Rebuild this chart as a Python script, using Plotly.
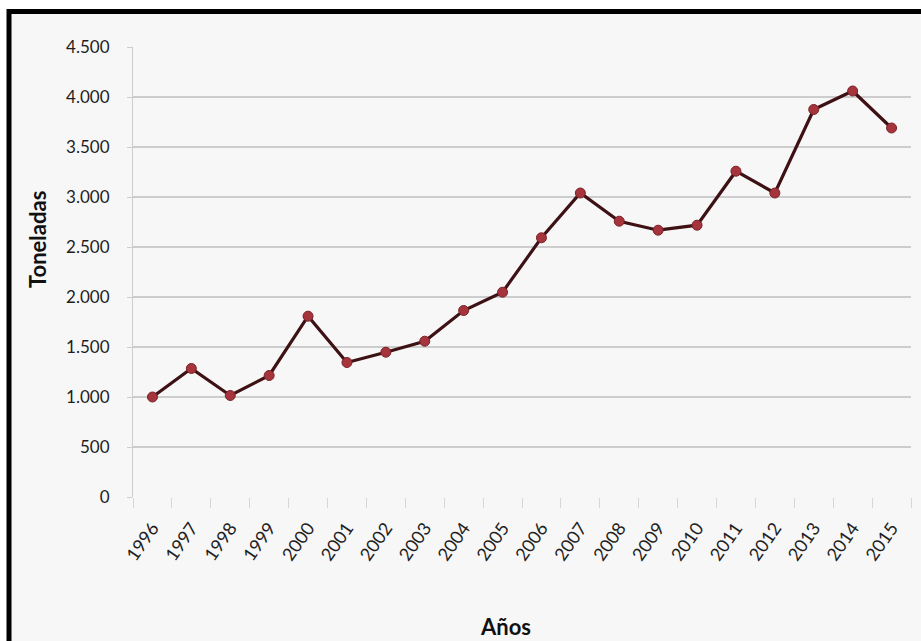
import plotly.graph_objects as go

years = [str(y) for y in range(1996, 2016)]
toneladas = [1000, 1285, 1015, 1215, 1808, 1345, 1448, 1558, 1865, 2048,
             2592, 3040, 2758, 2668, 2718, 3258, 3040, 3875, 4060, 3690]
y_ticks = [0, 500, 1000, 1500, 2000, 2500, 3000, 3500, 4000, 4500]

W, H = 921, 641
L, R, T, B = 133, 10, 47, 144
pw, ph = W - L - R, H - T - B


def px(x):
    return (x - L) / pw


def py(y):
    return (H - B - y) / ph


FONT = "Lato, 'Open Sans', sans-serif"

fig = go.Figure()
fig.add_trace(go.Scatter(
    x=years, y=toneladas, mode="lines+markers",
    line=dict(color="#3e1114", width=3.2),
    marker=dict(color="#a5343c", size=10, line=dict(color="#7a2226", width=1)),
    hoverinfo="x+y", showlegend=False,
))

fig.update_layout(
    width=W, height=H,
    margin=dict(l=L, r=R, t=T, b=B),
    paper_bgcolor="white",
    plot_bgcolor="rgba(0,0,0,0)",
    separators=",.",
    font=dict(family=FONT, color="#222222", size=17),
    xaxis=dict(
        type="category", range=[-0.5, len(years) - 0.5],
        tickangle=-55, showgrid=False,
        ticks="outside", ticklen=10, tickcolor="#d6d6d6", tickwidth=1,
        tickson="boundaries", ticklabelstandoff=16,
        showline=False, zeroline=False,
        tickfont=dict(family=FONT, size=18, color="#1e1e1e"),
    ),
    yaxis=dict(
        range=[0, 4500], tickvals=y_ticks, tickformat=",d",
        showgrid=True, gridcolor="#cdcdcd", gridwidth=1.6,
        ticks="outside", ticklen=5, tickcolor="#cdcdcd",
        ticklabelstandoff=14,
        showline=True, linecolor="#cdcdcd", linewidth=1.2,
        zeroline=False,
        tickfont=dict(family=FONT, size=17, color="#1e1e1e"),
    ),
    shapes=[
        dict(type="rect", xref="paper", yref="paper", layer="below",
             x0=px(9), x1=px(935), y0=py(660), y1=py(11.5),
             fillcolor="#f7f7f7", line=dict(color="black", width=5)),
    ],
    annotations=[
        dict(text="<b>Años</b>", xref="paper", yref="paper",
             x=px(505), y=py(626), xanchor="center", yanchor="middle",
             showarrow=False,
             font=dict(family=FONT, size=22, color="#111111")),
        dict(text="<b>Toneladas</b>", xref="paper", yref="paper",
             x=px(37), y=py(240), xanchor="center", yanchor="middle",
             showarrow=False, textangle=-90,
             font=dict(family=FONT, size=22, color="#111111")),
    ],
)

fig.write_html("out.html")
